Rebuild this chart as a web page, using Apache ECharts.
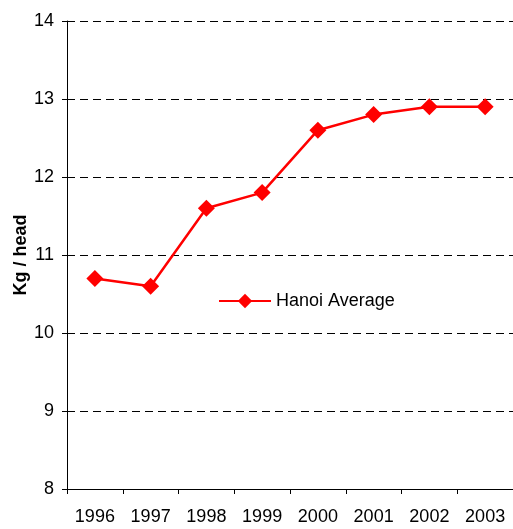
<!DOCTYPE html>
<html>
<head>
<meta charset="UTF-8">
<title></title>
<script type="text/javascript" src="https://cdn.jsdelivr.net/npm/echarts@6/dist/echarts.min.js"></script>
<style type="text/css">
	* { padding: 0; margin: 0; }
	#main { width: 513px; height: 529px; background: #fff; }
</style>
</head>
<body>
<div id="main"></div>
<script type="text/javascript">
var years = ['1996', '1997', '1998', '1999', '2000', '2001', '2002', '2003'];
var hanoiAverage = [10.7, 10.6, 11.6, 11.8, 12.6, 12.8, 12.9, 12.9];

var myChart = echarts.init(document.getElementById('main'));
myChart.setOption({
	animation: false,
	textStyle: { fontFamily: 'Liberation Sans, Arial, sans-serif' },
	legend: {
		left: 213,
		top: 287,
		itemWidth: 52,
		itemHeight: 18,
		textStyle: { fontSize: 18, color: '#000' },
		data: ['Hanoi Average']
	},
	grid: { left: 67, right: 0, top: 21, bottom: 40, outerBoundsMode: 'none', containLabel: false },
	xAxis: {
		type: 'category',
		data: years,
		boundaryGap: true,
		axisLine: { lineStyle: { color: '#000', width: 1 } },
		axisTick: { show: true, length: 5, lineStyle: { color: '#000' } },
		axisLabel: { color: '#000', fontSize: 18, margin: 19 },
		splitLine: { show: false }
	},
	yAxis: {
		type: 'value',
		min: 8,
		max: 14,
		interval: 1,
		name: 'Kg / head',
		nameLocation: 'middle',
		nameGap: 37,
		nameMoveOverlap: false,
		nameTextStyle: { fontSize: 18, fontWeight: 'bold', color: '#000' },
		axisLine: { show: true, lineStyle: { color: '#000', width: 1 } },
		axisTick: { show: true, length: 5, lineStyle: { color: '#000' } },
		axisLabel: { color: '#000', fontSize: 18, margin: 13 },
		splitLine: { show: true, lineStyle: { color: '#000', type: [8, 5], width: 1 } }
	},
	series: [{
		name: 'Hanoi Average',
		type: 'line',
		data: hanoiAverage,
		symbol: 'diamond',
		symbolSize: 17,
		lineStyle: { color: '#ff0000', width: 2.5 },
		itemStyle: { color: '#ff0000' }
	}]
});
</script>
</body>
</html>
